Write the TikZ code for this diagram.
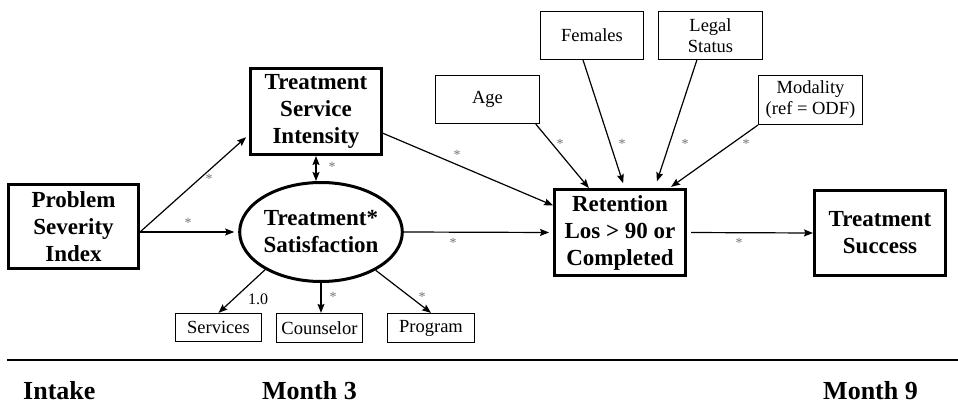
\documentclass[tikz,border=0pt]{standalone}
\usepackage{fontspec}
\setmainfont{Liberation Serif}
\usetikzlibrary{arrows.meta,shapes.geometric}

\tikzset{
  bigbox/.style={draw, line width=3pt, align=center, inner sep=0pt,
    font=\bfseries\fontsize{23}{27}\selectfont},
  smallbox/.style={draw, line width=1.2pt, align=center, inner sep=0pt,
    font=\fontsize{18.5}{21}\selectfont},
  arr/.style={-{Stealth[length=9pt,width=7pt,inset=1.5pt]}, line width=1.2pt},
  biarr/.style={{Stealth[length=9pt,width=7pt,inset=1.5pt]}-{Stealth[length=9pt,width=7pt,inset=1.5pt]}, line width=1.2pt},
  coef/.style={text=black!55, inner sep=0pt, font=\fontsize{14}{14}\selectfont},
  period/.style={anchor=base west, inner sep=0pt, font=\bfseries\fontsize{26}{26}\selectfont}
}

\begin{document}
\begin{tikzpicture}[x=1pt,y=-1pt]
\useasboundingbox (0,0) rectangle (958,403);

% main constructs
\node[bigbox, minimum width=130pt, minimum height=84pt] (psi) at (73.5,226.5) {Problem\\Severity\\Index};
\node[bigbox, minimum width=131pt, minimum height=86pt] (tsi) at (316,111.5) {Treatment\\Service\\Intensity};
\node[draw, ellipse, line width=3pt, inner sep=0pt, minimum width=141pt, minimum height=99pt,
      align=center, font=\bfseries\fontsize{23}{27}\selectfont] (sat) at (321,232) {Treatment*\\Satisfaction};
\node[bigbox, minimum width=131pt, minimum height=86pt] (ret) at (620,232.5) {Retention\\Los > 90 or\\Completed};
\node[bigbox, minimum width=131pt, minimum height=85pt] (succ) at (880,233) {Treatment\\Success};

% covariates
\node[smallbox, minimum width=104pt, minimum height=48pt] (age) at (487.5,99.5) {Age};
\node[smallbox, minimum width=103pt, minimum height=48pt] (fem) at (592,35.5) {Females};
\node[smallbox, minimum width=104pt, minimum height=48pt] (legal) at (710.5,35.5) {Legal\\Status};
\node[smallbox, minimum width=104pt, minimum height=49pt] (mod) at (810.5,100) {Modality\\(ref = ODF)};

% satisfaction indicators
\node[smallbox, minimum width=86pt, minimum height=28pt] (serv) at (218.5,327.5) {Services};
\node[smallbox, minimum width=86pt, minimum height=29pt] (couns) at (319.5,328) {Counselor};
\node[smallbox, minimum width=87pt, minimum height=29pt] (prog) at (431,328) {Program};

% paths
\draw[arr, shorten >=4pt] (psi.east |- sat.center) -- (tsi.199);
\draw[arr, shorten >=4pt] (psi.east |- sat.center) -- (sat.west);
\draw[biarr] (tsi.south) -- (tsi.south |- sat.north);
\draw[arr] (sat.214.5) -- (serv.north);
\draw[arr] (sat.south) -- (sat.south |- couns.north);
\draw[arr] (sat.-35) -- (prog.north);
\draw[arr] (tsi.-18.6) -- (ret.158);
\draw[arr, shorten >=4pt] (sat.east) -- (ret.west);
\draw[arr, shorten <=4pt] (ret.east) -- (succ.west);
\draw[arr] (age.-27) -- (ret.125);
\draw[arr, shorten >=5pt] (fem.250) -- (ret.84);
\draw[arr, shorten >=7pt] (legal.241) -- (ret.52);
\draw[arr, shorten >=2pt] (mod.south west) -- (ret.42);

% path coefficients
\node[coef] (c1) at (209,179) {*};
\node[coef] (c2) at (188,223) {*};
\node[coef] (c3) at (332,167) {*};
\node[inner sep=0pt, font=\fontsize{16}{16}\selectfont] (c4) at (258,299) {1.0};
\node[coef] (c5) at (333,297) {*};
\node[coef] (c6) at (422,297) {*};
\node[coef] (c7) at (457,155) {*};
\node[coef] (c8) at (453,243) {*};
\node[coef] (c9) at (739,243) {*};
\node[coef] (c10) at (560,144) {*};
\node[coef] (c11) at (622,144) {*};
\node[coef] (c12) at (685,144) {*};
\node[coef] (c13) at (746,144) {*};

% time line
\coordinate (tl) at (7,360);
\coordinate (tr) at (958,360);
\draw[line width=1.5pt] (tl) -- (tr);
\node[period] (t0) at (23,399) {Intake};
\node[period] (t3) at (262,399) {Month 3};
\node[period] (t9) at (823,399) {Month 9};
\end{tikzpicture}
\end{document}
